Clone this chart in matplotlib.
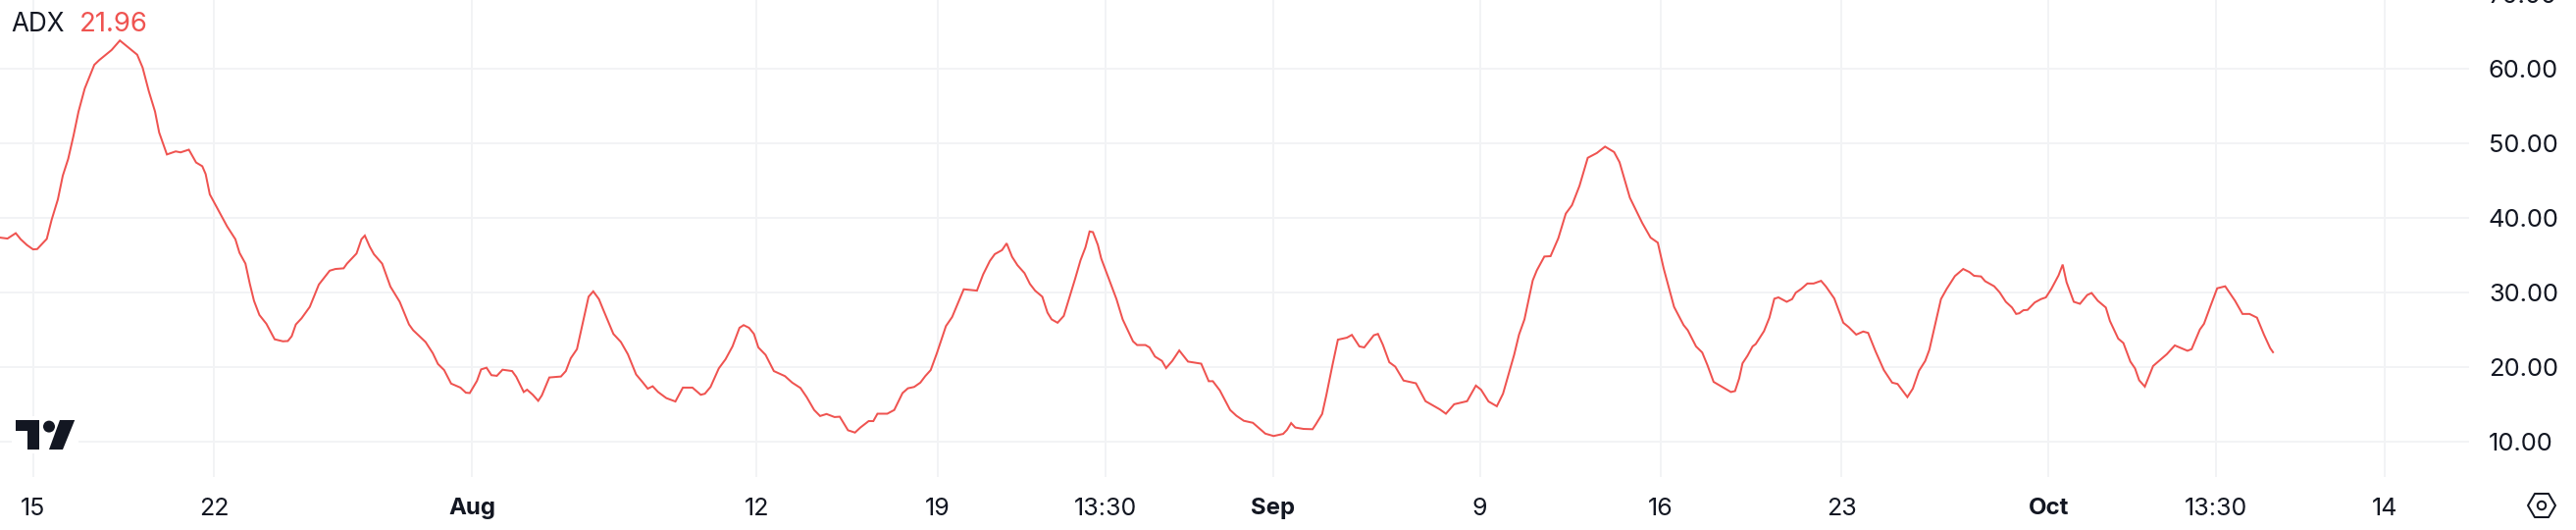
import matplotlib
matplotlib.use("Agg")
import matplotlib.pyplot as plt
from matplotlib.patches import Polygon, Circle, Rectangle

plt.rcParams['font.family'] = ['Inter', 'DejaVu Sans']

# days since 15 Jul
days = [-1.28,-0.99,-0.67,-0.48,-0.24,0,0.16,0.53,0.72,0.96,1.15,1.36,1.57,1.76,2.0,2.37,2.56,3.04,3.36,3.68,4.03,4.24,4.48,4.72,4.88,5.18,5.52,5.71,6.03,6.31,6.55,6.68,6.84,7.19,7.51,7.83,7.99,8.22,8.39,8.55,8.76,9.03,9.35,9.67,9.86,10.01,10.17,10.39,10.71,11.06,11.48,11.7,12.02,12.15,12.52,12.71,12.84,13.03,13.19,13.51,13.83,14.19,14.55,14.71,15.19,15.47,15.67,15.91,16.18,16.54,16.75,16.9,17.18,17.34,17.55,17.74,17.95,18.17,18.54,18.7,18.99,19.12,19.34,19.55,19.69,19.98,20.43,20.62,20.81,21.05,21.26,21.5,21.68,21.9,22.06,22.46,22.75,23.02,23.34,23.58,
        23.79,23.98,24.19,24.51,24.86,25.15,25.52,25.84,26.0,26.22,26.54,26.8,27.07,27.34,27.5,27.71,27.9,28.07,28.35,28.67,29.1,29.38,29.7,29.94,30.23,30.46,30.71,31.02,31.22,31.54,31.81,32.02,32.34,32.52,32.68,33.06,33.33,33.65,33.86,34.1,34.34,34.53,34.74,34.98,35.33,35.57,36.02,36.26,36.53,36.77,37.03,37.22,37.5,37.68,37.89,38.1,38.37,38.58,38.78,39.06,39.26,39.42,39.65,39.89,40.17,40.33,40.54,40.73,40.89,41.02,41.21,41.34,41.61,41.93,42.17,42.57,42.73,43.05,43.21,43.42,43.69,43.85,44.09,44.36,44.7,45.21,45.5,45.66,45.93,46.33,46.57,46.86,47.21,47.69,48.01,48.38,48.53,48.69,
        48.85,49.17,49.52,49.65,49.89,50.05,50.29,50.5,50.85,51.04,51.33,51.52,51.89,52.05,52.24,52.49,52.72,53.04,53.52,53.89,54.44,54.68,55.0,55.24,55.5,55.84,56.04,56.33,56.65,56.89,57.32,57.51,57.72,58.04,58.2,58.49,58.73,59.03,59.32,59.56,59.85,60.17,60.52,60.84,61.19,61.4,61.8,62.28,62.6,62.88,63.11,63.51,63.88,64.04,64.36,64.6,64.8,65.04,65.47,65.71,65.87,66.03,66.16,66.35,66.55,66.67,66.99,67.2,67.39,67.55,67.87,68.08,68.22,68.43,68.67,68.91,69.2,69.39,69.71,70.06,70.27,70.56,70.83,71.02,71.31,71.63,71.95,72.16,72.54,72.75,72.99,73.23,
        73.39,73.84,74.06,74.38,74.7,74.94,75.12,75.39,75.55,75.9,76.11,76.35,76.59,76.75,76.87,77.03,77.19,77.47,77.71,77.9,78.11,78.39,78.55,78.7,78.98,79.22,79.5,79.67,79.91,80.22,80.38,80.7,80.9,81.17,81.35,81.51,81.73,82.05,82.58,82.89,83.38,83.54,83.86,84.02,84.26,84.53,84.84,85.22,85.51,85.78,86.07,86.34,86.58,86.69]

adx = [37.33,37.2,37.92,37.11,36.34,35.75,35.79,37.15,39.73,42.45,45.63,47.89,51.07,54.24,57.32,60.5,61.13,62.49,63.76,62.85,61.86,60.13,56.96,54.24,51.43,48.48,48.89,48.76,49.12,47.4,46.9,45.85,43.13,40.87,38.83,37.11,35.29,33.84,31.12,28.86,26.95,25.77,23.69,23.42,23.46,24.1,25.68,26.5,28.04,31.03,32.89,33.12,33.21,33.84,35.2,37.11,37.6,36.11,35.11,33.84,30.76,28.72,25.68,24.91,23.33,21.83,20.38,19.56,17.75,17.21,16.53,16.48,18.11,19.65,19.88,18.88,18.79,19.61,19.43,18.66,16.62,16.93,16.25,15.44,16.16,18.57,18.7,19.43,21.15,22.37,25.68,29.4,30.12,29.08,27.72,24.41,23.33,21.69,18.97,17.98,
       17.07,17.39,16.62,15.8,15.35,17.21,17.21,16.25,16.39,17.3,19.79,21.01,22.74,25.23,25.59,25.23,24.41,22.6,21.6,19.43,18.75,17.88,17.16,15.94,14.21,13.4,13.67,13.26,13.31,11.49,11.18,11.86,12.72,12.72,13.71,13.71,14.21,16.48,17.12,17.3,17.88,18.75,19.56,21.83,25.46,26.68,30.4,30.31,30.22,32.39,34.2,35.11,35.65,36.56,34.75,33.62,32.57,31.12,30.22,29.4,27.27,26.36,25.91,26.82,29.99,31.8,34.3,36.02,38.15,38.06,36.34,34.52,32.03,29.08,26.36,23.42,22.92,22.92,22.6,21.38,20.79,19.83,20.79,22.19,20.7,20.42,18.07,18.07,16.84,14.21,13.44,12.76,12.49,11.04,10.72,11.0,11.54,12.45,
       11.86,11.67,11.63,12.31,13.67,16.16,20.24,23.64,23.91,24.28,22.74,22.6,24.23,24.41,22.96,20.61,20.02,18.16,17.79,15.39,14.3,13.71,14.98,15.17,15.39,17.48,16.93,15.35,14.71,16.39,21.6,24.32,26.36,31.58,32.94,34.79,34.84,37.24,40.55,41.68,44.27,48.03,48.67,49.53,48.8,47.44,42.68,39.28,37.33,36.65,33.16,28.04,25.59,24.91,22.74,21.92,20.24,17.98,17.11,16.62,16.75,18.43,20.47,21.47,22.74,23.05,24.78,26.59,29.13,29.31,28.72,29.08,29.94,30.44,31.17,31.17,31.53,30.76,29.17,25.91,25.32,24.32,24.73,24.55,22.06,19.56,17.88,17.7,15.94,17.07,19.47,20.79,
       22.28,29.08,30.44,32.17,33.12,32.71,32.21,32.12,31.48,30.8,29.99,28.72,27.95,27.09,27.18,27.59,27.63,28.63,29.08,29.31,30.44,32.26,33.71,31.35,28.72,28.45,29.63,29.9,28.86,27.95,26.14,23.78,23.19,20.7,19.79,18.2,17.34,20.11,21.69,22.87,22.15,22.37,25.0,25.77,28.04,30.53,30.8,28.86,27.09,27.09,26.59,24.32,22.51,21.96]

x_ticks = [0, 7, 17, 28, 35, 41.5, 48, 56, 63, 70, 78, 84.5, 91]
x_labels = ['15', '22', 'Aug', '12', '19', '13:30', 'Sep', '9', '16', '23', 'Oct', '13:30', '14']
bold_labels = ['Aug', 'Sep', 'Oct']
y_ticks = [10, 20, 30, 40, 50, 60, 70]
y_labels = ['10.00', '20.00', '30.00', '40.00', '50.00', '60.00', '70.00']
series_name = 'ADX'
last_value = '21.96'

W, H = 2626, 540
INK = '#131722'
RED = '#ef5350'
GRID = '#f2f3f5'
px = 72 / 100  # points per pixel

fig = plt.figure(figsize=(W / 100, H / 100), dpi=100, facecolor='white')
PLOT_R, PLOT_B = 2517, 485.5
ax = fig.add_axes([0, 1 - PLOT_B / H, PLOT_R / W, PLOT_B / H])
ax.set_xlim(-33.7 / 26.34, (PLOT_R - 33.7) / 26.34)
ax.set_ylim(10 - (PLOT_B - 449.7) / 7.597, 10 + 449.7 / 7.597)
for s in ax.spines.values():
    s.set_visible(False)

ax.set_xticks(x_ticks)
ax.set_xticklabels(x_labels, fontsize=25 * px, color=INK)
for lab in ax.get_xticklabels():
    if lab.get_text() in bold_labels:
        lab.set_fontweight('bold')
        lab.set_fontsize(24 * px)
ax.tick_params(axis='x', length=0, pad=21.5 * px)
ax.set_yticks(y_ticks[:-1])
ax.yaxis.tick_right()
ax.set_yticklabels(y_labels[:-1], fontsize=25.5 * px, color=INK)
ax.tick_params(axis='y', length=0, pad=20 * px)
ax.text(1 + 20 / PLOT_R, y_ticks[-1], y_labels[-1], transform=ax.get_yaxis_transform(), fontsize=25.5 * px,
        color=INK, va='center_baseline', ha='left', clip_on=False)
ax.grid(True, color=GRID, lw=2 * px)
ax.set_axisbelow(True)

ax.plot(days, adx, color=RED, lw=2 * px, solid_joinstyle='miter', zorder=3, clip_on=True)

ax.text(11 / PLOT_R, 1 - 25 / PLOT_B, series_name, transform=ax.transAxes, fontsize=26 * px,
        color=INK, va='center', ha='left')
ax.text(80.5 / PLOT_R, 1 - 25 / PLOT_B, last_value, transform=ax.transAxes, fontsize=27.5 * px,
        color=RED, va='center', ha='left')

# pixel-space overlay for logo and settings icon
ov = fig.add_axes([0, 0, 1, 1], facecolor='none')
ov.set_xlim(0, W)
ov.set_ylim(H, 0)
ov.axis('off')
ov.add_patch(Rectangle((12, 424), 68, 38, fc='white', ec='none'))
ov.add_patch(Polygon([(16, 428), (40, 428), (40, 458), (28.2, 458), (28.2, 439), (16, 439)], fc=INK, ec='none'))
ov.add_patch(Circle((50, 434.6), 6, fc=INK, ec='none'))
ov.add_patch(Polygon([(61, 428), (76.2, 428), (64, 458), (50, 458)], fc=INK, ec='none'))
cx, cy = 2591, 515
ov.add_patch(Polygon([(cx - 14, cy), (cx - 7, cy - 12), (cx + 7, cy - 12), (cx + 14, cy), (cx + 7, cy + 12), (cx - 7, cy + 12)],
                     fc='none', ec=INK, lw=2 * px, joinstyle='round'))
ov.add_patch(Circle((cx, cy), 4.2, fc='none', ec=INK, lw=2 * px))

fig.savefig('out.png', dpi=100, facecolor='white')
